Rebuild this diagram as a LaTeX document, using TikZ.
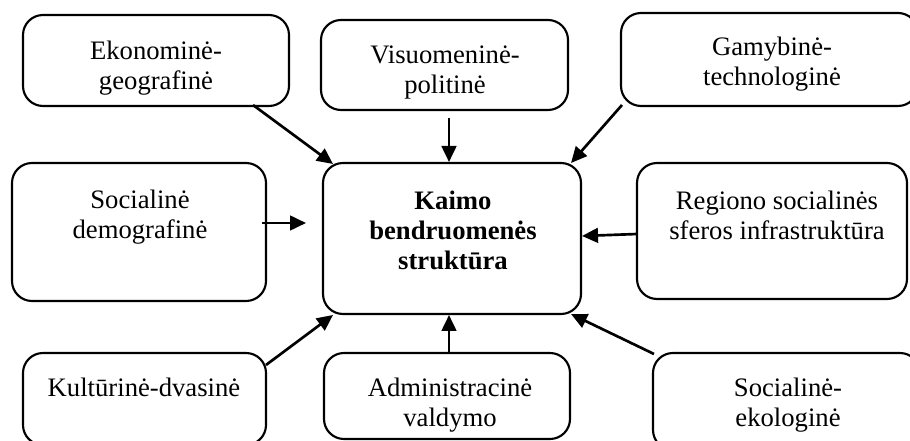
\documentclass[tikz,border=0pt]{standalone}
\usepackage{fontspec}
\setmainfont{Liberation Serif}
\usetikzlibrary{arrows.meta,calc,fit}

\tikzset{
  box/.style={draw, line width=1.6pt, rounded corners=15pt, inner sep=0pt, outer sep=0pt},
  lbl/.style={anchor=north, inner sep=0pt, align=center, font=\fontsize{20}{22.5}\selectfont},
  arr/.style={line width=2pt, -{Triangle[length=12pt,width=11pt]}}
}

\begin{document}
\begin{tikzpicture}[x=0.75pt,y=-0.75pt]
\useasboundingbox (0,0) rectangle (910,441);
\clip (0,0) rectangle (910,441);

% outer boxes
\node[box, fit={(23,15) (289,106)}]   (eko) {};
\node[box, fit={(321,20) (568,110)}]  (vis) {};
\node[box, fit={(621,13) (918,106)}]  (gam) {};
\node[box, fit={(12,163) (266,301)}]  (soc) {};
\node[box, fit={(323,163) (581,314)}] (cen) {};
\node[box, fit={(637,163) (907,299)}] (reg) {};
\node[box, fit={(23,353) (266,445)}]  (kul) {};
\node[box, fit={(324,353) (570,439)}] (adm) {};
\node[box, fit={(653,353) (920,450)}] (sek) {};

% labels
\node[lbl] (t-eko) at (156,38)  {\strut Ekonominė-\\geografinė};
\node[lbl] (t-vis) at (445,42)  {\strut Visuomeninė-\\politinė};
\node[lbl] (t-gam) at (772,34)  {\strut Gamybinė-\\technologinė};
\node[lbl] (t-soc) at (140,187) {\strut Socialinė\\demografinė};
\node[lbl, font=\fontsize{20}{22.5}\selectfont\bfseries] (t-cen) at (453,188)
  {\strut Kaimo\\bendruomenės\\struktūra};
\node[lbl] (t-reg) at (777,188) {\strut Regiono socialinės\\sferos infrastruktūra};
\node[lbl] (t-kul) at (144,375) {\strut Kultūrinė-dvasinė};
\node[lbl] (t-adm) at (450,375) {\strut Administracinė\\valdymo};
\node[lbl] (t-sek) at (788,375) {\strut Socialinė-\\ekologinė};

% influences on the central box
\draw[arr] ($(eko.south east)+(-36,-1)$) -- ($(cen.north west)+(10,1)$);
\draw[arr] ($(vis.south)+(4.5,8)$)       -- ($(cen.north)+(-3,-1)$);
\draw[arr] ($(gam.south west)+(1,-1)$)   -- ($(cen.north east)+(-10,0)$);
\draw[arr] ($(soc.north east)+(-4,60)$)  -- ($(cen.north west)+(-17,60)$);
\draw[arr] ($(reg.north west)+(0,71)$)   -- ($(cen.north east)+(1,73)$);
\draw[arr] ($(kul.north east)+(0,12)$)   -- ($(cen.south west)+(10,1)$);
\draw[arr] ($(adm.north)+(2,0)$)         -- ($(cen.south)+(-3,1)$);
\draw[arr] ($(sek.north west)+(1,1)$)    -- ($(cen.south east)+(-10,0)$);
\end{tikzpicture}
\end{document}
